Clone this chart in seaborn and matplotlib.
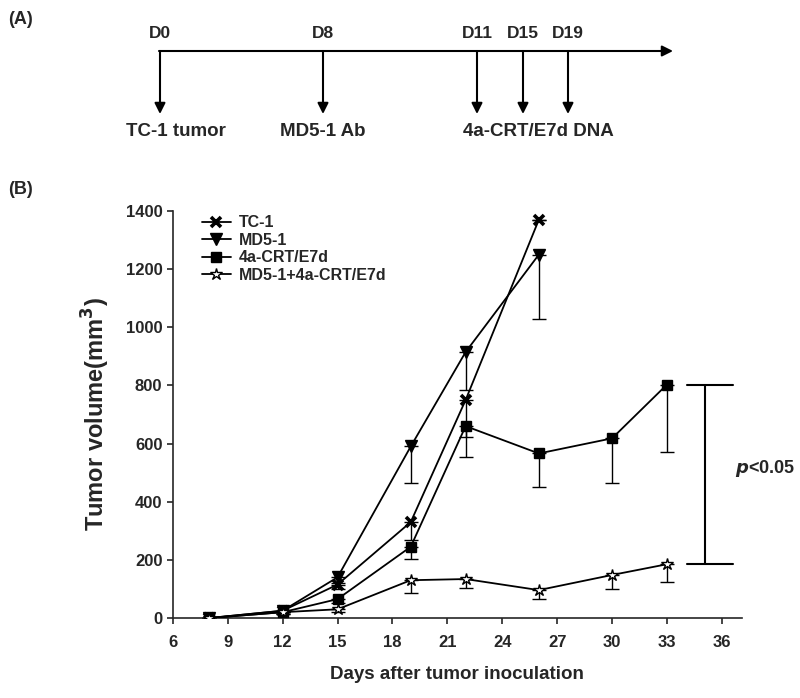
import matplotlib
matplotlib.use("Agg")
import matplotlib.pyplot as plt
import seaborn as sns

# Tumor volume data (mm^3)
days = [8, 12, 15, 19, 22, 26, 30, 33]
series_names = ["TC-1", "MD5-1", "4a-CRT/E7d", "MD5-1+4a-CRT/E7d"]
tc1 = [0, 25, 115, 330, 750, 1370]
tc1_err = [0, 5, 15, 62, 129, 0]
md5 = [0, 25, 140, 590, 915, 1250]
md5_err = [0, 5, 20, 125, 130, 220]
crt = [0, 20, 65, 245, 660, 566, 618, 803]
crt_err = [0, 5, 15, 43, 107, 116, 154, 233]
combo = [0, 20, 30, 130, 134, 96, 148, 185]
combo_err = [0, 5, 10, 45, 31, 31, 49, 61]

# Treatment schedule (panel A)
sched_days = ["D0", "D8", "D11", "D15", "D19"]
sched_labels = ["TC-1 tumor", "MD5-1 Ab", "4a-CRT/E7d DNA"]

sns.set_style("ticks")
plt.rcParams["font.family"] = ["Liberation Sans", "DejaVu Sans"]
plt.rcParams["font.weight"] = "bold"

fig = plt.figure(figsize=(8, 6.98), dpi=100)

# ---- panel A: schedule drawn on an overlay in pixel coordinates
ov = fig.add_axes([0, 0, 1, 1])
ov.set_xlim(0, 800)
ov.set_ylim(698, 0)
ov.axis("off")
ov.text(8, 20, "(A)", fontsize=13, fontweight="bold", va="center")
ov.text(8, 190, "(B)", fontsize=13, fontweight="bold", va="center")

line_y = 51
ov.annotate("", xy=(673, line_y), xytext=(159, line_y),
            arrowprops=dict(arrowstyle="-|>", color="black", lw=1.5,
                            mutation_scale=16, shrinkA=0, shrinkB=0))
arrow_x = [160, 323, 477, 523, 568]
for xpos, lab in zip(arrow_x, sched_days):
    ov.annotate("", xy=(xpos, 114), xytext=(xpos, line_y),
                arrowprops=dict(arrowstyle="-|>", color="black", lw=1.5,
                                mutation_scale=16, shrinkA=0, shrinkB=0))
    ov.text(xpos, 34, lab, fontsize=12.5, fontweight="bold",
            ha="center", va="center")
label_x = [176, 323, 538]
for xpos, lab in zip(label_x, sched_labels):
    ov.text(xpos, 131, lab, fontsize=13.5, fontweight="bold",
            ha="center", va="center")

# ---- panel B: tumor growth curves
ax = fig.add_axes([0.216, 0.1146, 0.7115, 0.5831])
all_y = [tc1, md5, crt, combo]
all_err = [tc1_err, md5_err, crt_err, combo_err]
markers = ["x", "v", "s", "*"]
faces = ["black", "black", "black", "white"]
sizes = [7, 8, 7, 9]
edge_w = [2.6, 1.0, 1.0, 1.0]

for name, y, err, m, fc, ms, ew in zip(series_names, all_y, all_err,
                                        markers, faces, sizes, edge_w):
    x = days[:len(y)]
    ax.errorbar(x, y, yerr=[err, [0] * len(err)], fmt="none",
                ecolor="black", elinewidth=1.0, capsize=5, capthick=1.0,
                zorder=2)
    sns.lineplot(x=x, y=y, ax=ax, color="black", lw=1.3, marker=m,
                 markersize=ms, markerfacecolor=fc, markeredgecolor="black",
                 markeredgewidth=ew, label=name, zorder=3)

ax.set_xlim(6, 37.1)
ax.set_ylim(0, 1400)
ax.set_xticks(range(6, 37, 3))
ax.set_yticks(range(0, 1401, 200))
ax.tick_params(axis="both", labelsize=12, length=4, width=1.2)
ax.tick_params(axis="x", pad=8)
for t in ax.get_xticklabels() + ax.get_yticklabels():
    t.set_fontweight("bold")
ax.spines["top"].set_visible(False)
ax.spines["right"].set_visible(False)
ax.spines["left"].set_linewidth(1.2)
ax.spines["bottom"].set_linewidth(1.2)
ax.set_xlabel("Days after tumor inoculation", fontsize=13.5,
              fontweight="bold", labelpad=12)
ax.set_ylabel("Tumor volume(mm$^\\mathbf{3}$)", fontsize=17,
              fontweight="bold", labelpad=10)

leg = ax.legend(loc="upper left", bbox_to_anchor=(0.04, 1.005), frameon=False,
                fontsize=11.5, handlelength=1.8, handletextpad=0.5,
                labelspacing=0.15, borderaxespad=0)
for t in leg.get_texts():
    t.set_fontweight("bold")

# significance bracket between 4a-CRT/E7d and combination at day 33
top_v, bot_v = crt[-1], combo[-1]
ax.plot([35.1, 35.1], [bot_v, top_v], color="black", lw=1.5, clip_on=False)
ax.plot([34.1, 36.6], [top_v, top_v], color="black", lw=1.5, clip_on=False)
ax.plot([34.1, 36.6], [bot_v, bot_v], color="black", lw=1.5, clip_on=False)
ax.text(36.7, 515, "$\\mathbfit{p}$<0.05", fontsize=13, fontweight="bold",
        va="center", ha="left", clip_on=False)

fig.savefig("out.png", dpi=100)
